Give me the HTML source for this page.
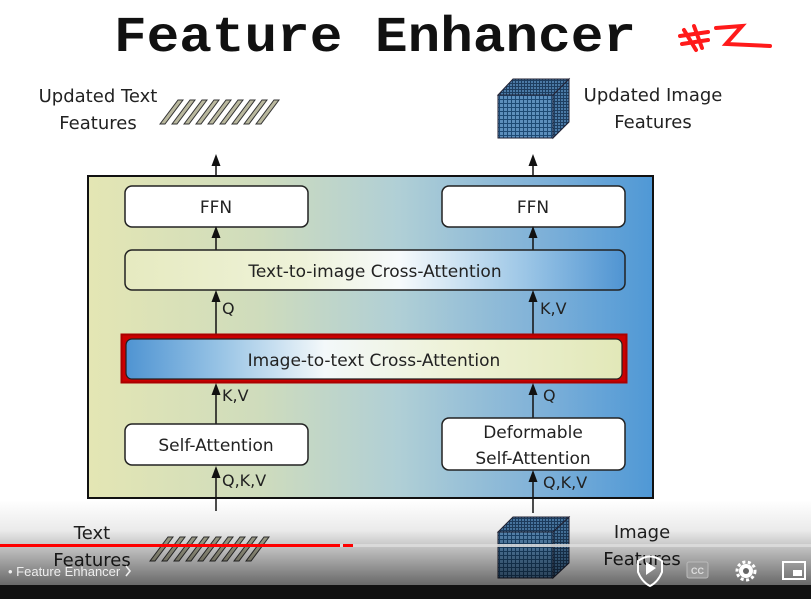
<!DOCTYPE html>
<html><head><meta charset="utf-8"><style>
html,body{margin:0;padding:0;width:811px;height:599px;overflow:hidden;background:#fff}
svg{display:block}
text{font-family:"DejaVu Sans","Liberation Sans",sans-serif}
</style></head><body>
<svg width="811" height="599" viewBox="0 0 811 599" xmlns="http://www.w3.org/2000/svg">
<defs>
<linearGradient id="bg" x1="0" x2="1" y1="0" y2="0">
<stop offset="0" stop-color="#e4e6b4"/><stop offset="0.3" stop-color="#cfdcbc"/><stop offset="0.55" stop-color="#b0cfd6"/><stop offset="0.8" stop-color="#7fb1d8"/><stop offset="1" stop-color="#4f98d6"/>
</linearGradient>
<linearGradient id="t2i" x1="0" x2="1">
<stop offset="0" stop-color="#e6eac0"/><stop offset="0.35" stop-color="#eef2d8"/><stop offset="0.55" stop-color="#f6fafc"/><stop offset="0.8" stop-color="#9cc6e6"/><stop offset="1" stop-color="#4f94d2"/>
</linearGradient>
<linearGradient id="i2t" x1="0" x2="1">
<stop offset="0" stop-color="#4f94d2"/><stop offset="0.2" stop-color="#9cc6e6"/><stop offset="0.4" stop-color="#f3f8fa"/><stop offset="0.65" stop-color="#eef2d8"/><stop offset="1" stop-color="#e2e8b8"/>
</linearGradient>
<pattern id="grid" width="4" height="4" patternUnits="userSpaceOnUse">
<rect width="4" height="4" fill="#1e4a74"/><rect width="3" height="3" fill="#5d8fbc"/>
</pattern>
<pattern id="grid2" width="3" height="3" patternUnits="userSpaceOnUse">
<rect width="3" height="3" fill="#1e3e60"/><rect width="2" height="2" fill="#4b7aa6"/>
</pattern>
<linearGradient id="ov" x1="0" x2="0" y1="0" y2="1">
<stop offset="0" stop-color="#000" stop-opacity="0"/><stop offset="0.35" stop-color="#000" stop-opacity="0.08"/><stop offset="1" stop-color="#000" stop-opacity="0.6"/>
</linearGradient>
<marker id="ar" markerWidth="8" markerHeight="8" refX="4" refY="4" orient="auto"><path d="M0,1 L8,4 L0,7 Z" fill="#111"/></marker>
</defs>

<text x="114" y="51" textLength="522" lengthAdjust="spacingAndGlyphs" font-weight="bold" font-size="50" fill="#111" style="font-family:'Liberation Mono',monospace">Feature Enhancer</text>
<path d="M684 30 L696 50 M694 26 L702 48 M680 36 L708 32 M682 44 L708 40 M716 28 L742 26 L726 44 L770 46" stroke="#ff1a1a" stroke-width="4" fill="none" stroke-linecap="round"/>

<text x="98" y="102" text-anchor="middle" font-size="18" fill="#222">Updated Text</text>
<text x="98" y="129" text-anchor="middle" font-size="18" fill="#222">Features</text>
<text x="653" y="101" text-anchor="middle" font-size="18" fill="#222">Updated Image</text>
<text x="653" y="128" text-anchor="middle" font-size="18" fill="#222">Features</text>

<g stroke="#333" stroke-width="1" fill="#b9b89e">
<polygon points="160,124 178,100 183,100 165,124"/><polygon points="172,124 190,100 195,100 177,124"/><polygon points="184,124 202,100 207,100 189,124"/><polygon points="196,124 214,100 219,100 201,124"/><polygon points="208,124 226,100 231,100 213,124"/><polygon points="220,124 238,100 243,100 225,124"/><polygon points="232,124 250,100 255,100 237,124"/><polygon points="244,124 262,100 267,100 249,124"/><polygon points="256,124 274,100 279,100 261,124"/>
</g>
<polygon points="498,95 513,79 569,79 553,95" fill="url(#grid2)" stroke="#223" />
<polygon points="553,95 569,79 569,122 553,138" fill="url(#grid2)" stroke="#223"/>
<rect x="498" y="95" width="55" height="43" fill="url(#grid)" stroke="#223"/>

<line x1="216" y1="176" x2="216" y2="160" stroke="#111" stroke-width="1.5" marker-end="url(#ar)"/>
<line x1="533" y1="176" x2="533" y2="160" stroke="#111" stroke-width="1.5" marker-end="url(#ar)"/>

<rect x="88" y="176" width="565" height="322" fill="url(#bg)" stroke="#111" stroke-width="2"/>

<rect x="125" y="186" width="183" height="41" rx="7" fill="#fff" stroke="#222" stroke-width="1.5"/>
<text x="216" y="213" text-anchor="middle" font-size="17" fill="#222">FFN</text>
<rect x="442" y="186" width="183" height="41" rx="7" fill="#fff" stroke="#222" stroke-width="1.5"/>
<text x="533" y="213" text-anchor="middle" font-size="17" fill="#222">FFN</text>

<line x1="216" y1="250" x2="216" y2="232" stroke="#111" stroke-width="1.5" marker-end="url(#ar)"/>
<line x1="533" y1="250" x2="533" y2="232" stroke="#111" stroke-width="1.5" marker-end="url(#ar)"/>

<rect x="125" y="250" width="500" height="40" rx="7" fill="url(#t2i)" stroke="#222" stroke-width="1.5"/>
<text x="375" y="277" text-anchor="middle" font-size="17" fill="#222">Text-to-image Cross-Attention</text>

<line x1="216" y1="335" x2="216" y2="296" stroke="#111" stroke-width="1.5" marker-end="url(#ar)"/>
<line x1="533" y1="335" x2="533" y2="296" stroke="#111" stroke-width="1.5" marker-end="url(#ar)"/>
<text x="222" y="314" font-size="16" fill="#222">Q</text>
<text x="540" y="314" font-size="16" fill="#222">K,V</text>

<rect x="121.5" y="334.5" width="505" height="48" fill="#c00" stroke="#a00" stroke-width="2"/>
<rect x="126" y="339" width="496" height="40" rx="6" fill="url(#i2t)" stroke="#222" stroke-width="1.2"/>
<text x="374" y="366" text-anchor="middle" font-size="17" fill="#222">Image-to-text Cross-Attention</text>

<line x1="216" y1="424" x2="216" y2="389" stroke="#111" stroke-width="1.5" marker-end="url(#ar)"/>
<line x1="533" y1="418" x2="533" y2="389" stroke="#111" stroke-width="1.5" marker-end="url(#ar)"/>
<text x="222" y="401" font-size="16" fill="#222">K,V</text>
<text x="543" y="401" font-size="16" fill="#222">Q</text>

<rect x="125" y="424" width="183" height="41" rx="7" fill="#fff" stroke="#222" stroke-width="1.5"/>
<text x="216" y="451" text-anchor="middle" font-size="17" fill="#222">Self-Attention</text>
<rect x="442" y="418" width="183" height="52" rx="7" fill="#fff" stroke="#222" stroke-width="1.5"/>
<text x="533" y="438" text-anchor="middle" font-size="17" fill="#222">Deformable</text>
<text x="533" y="464" text-anchor="middle" font-size="17" fill="#222">Self-Attention</text>

<line x1="216" y1="511" x2="216" y2="472" stroke="#111" stroke-width="1.5" marker-end="url(#ar)"/>
<line x1="533" y1="513" x2="533" y2="476" stroke="#111" stroke-width="1.5" marker-end="url(#ar)"/>
<text x="222" y="486" font-size="16" fill="#222">Q,K,V</text>
<text x="543" y="488" font-size="16" fill="#222">Q,K,V</text>

<text x="92" y="539" text-anchor="middle" font-size="18" fill="#222">Text</text>
<text x="92" y="566" text-anchor="middle" font-size="18" fill="#222">Features</text>
<text x="642" y="538" text-anchor="middle" font-size="18" fill="#222">Image</text>
<text x="642" y="565" text-anchor="middle" font-size="18" fill="#222">Features</text>

<g stroke="#333" stroke-width="1" fill="#b3b29a">
<polygon points="150,561 168,537 173,537 155,561"/><polygon points="162,561 180,537 185,537 167,561"/><polygon points="174,561 192,537 197,537 179,561"/><polygon points="186,561 204,537 209,537 191,561"/><polygon points="198,561 216,537 221,537 203,561"/><polygon points="210,561 228,537 233,537 215,561"/><polygon points="222,561 240,537 245,537 227,561"/><polygon points="234,561 252,537 257,537 239,561"/><polygon points="246,561 264,537 269,537 251,561"/>
</g>
<polygon points="498,532 513,517 569,517 553,532" fill="url(#grid2)" stroke="#223"/>
<polygon points="553,532 569,517 569,563 553,578" fill="url(#grid2)" stroke="#223"/>
<rect x="498" y="532" width="55" height="46" fill="url(#grid)" stroke="#223"/>

<rect x="0" y="500" width="811" height="86" fill="url(#ov)"/>
<rect x="0" y="585" width="811" height="14" fill="#111"/>
<rect x="0" y="544" width="811" height="3" fill="#ddd" opacity="0.85"/>
<rect x="0" y="544" width="340" height="3" fill="#f00"/>
<rect x="343" y="544" width="10" height="3" fill="#f00"/>

<text x="8" y="576" font-size="13" fill="#eee" style="font-family:'Liberation Sans',sans-serif">•  Feature Enhancer</text>
<path d="M126 566 L130 571 L126 576" stroke="#eee" stroke-width="1.6" fill="none"/>
<path d="M638 561 Q650 552 662 561 L662 572 Q658 582 650 586 Q642 582 638 572 Z" fill="none" stroke="#fff" stroke-width="2"/>
<path d="M646 562 L656 568 L646 575 Z" fill="#fff"/>
<rect x="687" y="562" width="21" height="16" rx="2" fill="#999" stroke="#bbb"/>
<text x="697.5" y="574" text-anchor="middle" font-size="9" font-weight="bold" fill="#ddd" style="font-family:'Liberation Sans',sans-serif">CC</text>
<circle cx="746" cy="571" r="7" fill="#fff"/><circle cx="746" cy="571" r="9" fill="none" stroke="#fff" stroke-width="3" stroke-dasharray="3 2.5"/><circle cx="746" cy="571" r="3" fill="#666"/>
<rect x="783" y="562" width="22" height="17" fill="none" stroke="#fff" stroke-width="2"/>
<rect x="793" y="570" width="9" height="6" fill="#fff"/>
</svg>
</body></html>
